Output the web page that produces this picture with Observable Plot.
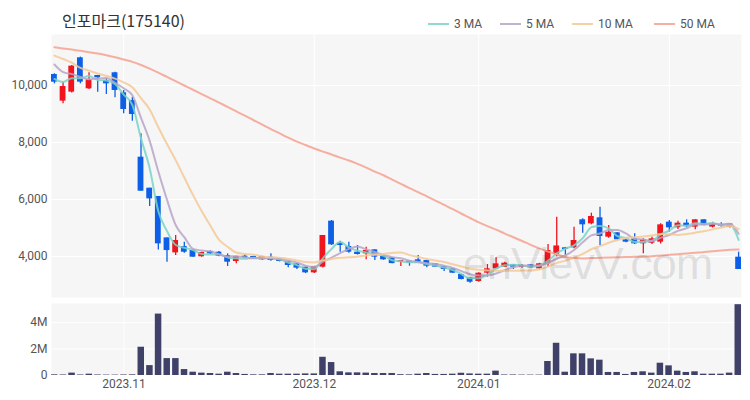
<!DOCTYPE html>
<html>
<head>
<meta charset="utf-8">
<script src="https://cdn.jsdelivr.net/npm/d3@7"></script>
<script src="https://cdn.jsdelivr.net/npm/@observablehq/plot@0.6"></script>
<style>
  body { margin: 0; background: #fff; }
  #wrap { position: relative; width: 750px; height: 400px; overflow: hidden; font-family: Roboto, "Noto Sans", sans-serif; }
  #wrap svg { display: block; }
  #title { position: absolute; left: 62px; top: 8px; font-size: 16px; color: #333; font-family: "Noto Sans CJK KR", sans-serif; white-space: nowrap; }
  .leg { position: absolute; top: 17px; font-size: 12px; color: #555; white-space: nowrap; display: flex; align-items: center; }
  .leg i { display: inline-block; width: 21px; height: 2px; margin-right: 5px; opacity: 0.85; }
  #wm { position: absolute; left: 463px; top: 238px; font-size: 45px; color: rgba(0,0,0,0.11); font-family: "Liberation Sans", Arial, sans-serif; letter-spacing: -1px; pointer-events: none; white-space: nowrap; }
</style>
</head>
<body>
<div id="wrap">
  <div id="chart"></div>
  <div id="title">인포마크(175140)</div>
  <div id="legend"></div>
  <div id="wm">enVievV.com</div>
</div>
<script>
const dates = ["2023-10-20","2023-10-23","2023-10-24","2023-10-25","2023-10-26","2023-10-27","2023-10-30","2023-10-31",
"2023-11-01","2023-11-02","2023-11-03","2023-11-06","2023-11-07","2023-11-08","2023-11-09","2023-11-10","2023-11-13","2023-11-14","2023-11-15","2023-11-16","2023-11-17","2023-11-20","2023-11-21","2023-11-22","2023-11-23","2023-11-24","2023-11-27","2023-11-28","2023-11-29","2023-11-30",
"2023-12-01","2023-12-04","2023-12-05","2023-12-06","2023-12-07","2023-12-08","2023-12-11","2023-12-12","2023-12-13","2023-12-14","2023-12-15","2023-12-18","2023-12-19","2023-12-20","2023-12-21","2023-12-22","2023-12-26","2023-12-27","2023-12-28",
"2024-01-02","2024-01-03","2024-01-04","2024-01-05","2024-01-08","2024-01-09","2024-01-10","2024-01-11","2024-01-12","2024-01-15","2024-01-16","2024-01-17","2024-01-18","2024-01-19","2024-01-22","2024-01-23","2024-01-24","2024-01-25","2024-01-26","2024-01-29","2024-01-30","2024-01-31",
"2024-02-01","2024-02-02","2024-02-05","2024-02-06","2024-02-07","2024-02-08","2024-02-13","2024-02-14","2024-02-15"];

const open = [10386,9450,9766,10971,9883,10351,10175,10445,9743,9474,
7485,6396,6104,4653,4127,4349,4209,3990,4175,4150,
4035,3824,4011,4000,3883,3976,3906,3824,3742,3625,
3426,3625,5240,4467,4350,4152,4093,4233,4000,3953,
3801,3836,3883,3859,3742,3648,3567,3368,3251,3122,
3414,3567,3625,3707,3625,3707,3567,3742,4070,4304,
4304,5287,5146,5357,4678,4830,4584,4619,4444,4467,
4503,5205,5006,5170,5029,5287,5029,5123,5029,3976];

const high = [10410,10117,10700,10995,10445,10351,10234,10468,9825,9590,
8304,6396,6104,4653,4735,4500,4240,4150,4200,4175,
4093,4011,4070,4011,4011,4093,3920,3830,3750,3630,
3660,4737,5263,4538,4503,4386,4327,4240,4010,3960,
3859,3840,4035,3870,3750,3660,3580,3380,3260,3430,
3719,3953,3801,3720,3720,3720,3760,4420,5380,4320,
5029,5322,5520,5731,5088,4840,4600,4795,4619,4680,
5146,5263,5240,5287,5287,5290,5200,5181,5150,4152];

const low = [10058,9357,9740,10058,9860,9766,9684,9567,9005,8748,
6291,5753,4232,3799,4033,4115,3975,3975,4080,3990,
3648,3742,3950,3900,3870,3836,3810,3602,3543,3400,
3400,3600,4386,4152,4117,4050,3883,3859,3870,3742,
3649,3660,3760,3602,3620,3473,3400,3180,3063,3100,
3274,3560,3620,3543,3590,3600,3560,3625,3990,4035,
4269,4818,5111,4386,4643,4580,4480,4420,4093,4420,
4440,4853,4950,5000,4935,5080,5000,5030,5000,3543];

const close = [10117,9965,10679,10117,10199,10269,10058,9825,9158,8982,
6291,6022,4443,4208,4560,4150,3975,4140,4090,4011,
3800,4000,3953,3918,4000,3859,3824,3684,3590,3426,
3648,4737,4409,4386,4152,4070,4210,3976,3883,3750,
3859,3777,3766,3660,3625,3543,3414,3192,3099,3414,
3567,3742,3766,3625,3684,3602,3742,4210,4370,4245,
4561,5111,5404,4701,4853,4584,4503,4444,4584,4619,
5111,5006,5170,5052,5287,5088,5146,5064,5146,3543];

const volume = [0.05,0.04,0.18,0.04,0.10,0.04,0.03,0.03,0.04,0.05,
2.14,0.75,4.65,1.28,1.28,0.45,0.25,0.18,0.15,0.10,
0.25,0.15,0.08,0.05,0.05,0.15,0.10,0.10,0.10,0.12,
0.12,1.38,0.98,0.28,0.20,0.20,0.18,0.15,0.15,0.15,
0.06,0.05,0.10,0.15,0.08,0.08,0.10,0.17,0.12,0.10,
0.10,0.33,0.04,0.04,0.03,0.03,0.03,1.06,2.44,0.25,
1.64,1.64,1.26,1.16,0.23,0.23,0.08,0.23,0.28,0.18,
0.93,0.73,0.33,0.23,0.28,0.10,0.10,0.10,0.18,5.36];

const ma3 = [10230,10120,10254,10254,10332,10195,10175,10051,9680,9322,
8144,7098,5585,4891,4404,4306,4228,4088,4068,4080,
3967,3937,3918,3957,3957,3926,3894,3789,3699,3567,
3555,3937,4265,4511,4316,4203,4144,4085,4023,3870,
3831,3795,3801,3734,3684,3609,3527,3383,3235,3235,
3360,3574,3692,3711,3692,3637,3676,3851,4107,4275,
4392,4639,5025,5072,4986,4713,4647,4510,4510,4549,
4771,4912,5096,5076,5170,5142,5174,5099,5119,4584];

const ma5 = [10737,10470,10400,10300,10215,10246,10264,10094,9902,9658,
8863,8056,6979,5989,5105,4677,4267,4207,4183,4073,
4003,4008,3971,3936,3934,3946,3911,3857,3791,3677,
3634,3817,3962,4121,4266,4351,4245,4159,4058,3978,
3936,3849,3807,3762,3737,3674,3602,3487,3375,3332,
3337,3403,3518,3623,3677,3684,3684,3773,3922,4034,
4226,4499,4738,4804,4926,4931,4809,4617,4594,4547,
4652,4753,4898,4992,5125,5121,5149,5127,5146,4797];

const ma10 = [11050,10930,10800,10620,10520,10420,10340,10240,10110,9937,
9554,9160,8536,7946,7382,6770,6161,5593,5086,4589,
4340,4138,4089,4060,4004,3975,3960,3914,3864,3805,
3790,3864,3910,3956,3972,3993,4031,4060,4090,4122,
4143,4047,3983,3910,3858,3805,3725,3647,3569,3535,
3506,3502,3502,3499,3505,3511,3543,3645,3772,3855,
3955,4092,4255,4363,4480,4578,4654,4678,4699,4736,
4791,4781,4758,4793,4836,4886,4951,5013,5069,4961];

const ma50 = [11345,11300,11260,11215,11170,11120,11060,10990,10910,10830,
10720,10590,10450,10300,10150,10000,9850,9700,9550,9400,
9250,9090,8940,8780,8630,8470,8320,8170,8030,7910,
7790,7680,7580,7470,7370,7250,7120,6980,6850,6700,
6550,6400,6260,6110,5960,5810,5660,5500,5350,5198,
5067,4942,4804,4674,4544,4410,4284,4172,4076,3981,
3947,3929,3948,3958,3963,3972,3983,3989,3999,4011,
4037,4057,4082,4104,4130,4155,4181,4209,4240,4242];

const xTicks = ["2023-11-01","2023-12-01","2024-01-02","2024-02-01"];
const xTickLabels = ["2023.11","2023.12","2024.01","2024.02"];
const priceTicks = [4000,6000,8000,10000];
const volTicks = [0,2,4];
const volTickLabels = ["0","2M","4M"];

const maNames = ["3 MA","5 MA","10 MA","50 MA"];
const maColors = ["#79d3c6","#b7a4c8","#f3c995","#f4a190"];
const maSeries = [ma3, ma5, ma10, ma50];

const upColor = "#f0141e";
const downColor = "#0c5fe6";

const candles = dates.map((d, i) => ({
  date: d, open: open[i], high: high[i], low: low[i], close: close[i],
  volume: volume[i] * 1e6,
  color: close[i] > open[i] ? upColor : downColor
}));

const style = {fontFamily: "Roboto, 'Noto Sans', sans-serif", fontSize: "12px", color: "#555", background: "transparent", overflow: "visible"};
const ML = 51, MR = 9;

const price = Plot.plot({
  width: 750, height: 297,
  marginLeft: ML, marginRight: MR, marginTop: 34, marginBottom: 0,
  style,
  x: {type: "band", domain: dates, paddingInner: 0.33, paddingOuter: 0, axis: null},
  y: {domain: [2561, 11789], axis: null},
  marks: [
    Plot.frame({fill: "#f6f6f6", stroke: "none"}),
    Plot.gridY(priceTicks, {stroke: "#fff", strokeOpacity: 1, strokeWidth: 1}),
    Plot.gridX(xTicks, {stroke: "#fff", strokeOpacity: 1, strokeWidth: 1}),
    Plot.axisY(priceTicks, {tickSize: 0, tickPadding: 4, tickFormat: d3.format(","), fill: "#555", fontSize: 12, label: null}),
    Plot.ruleX(candles, {x: "date", y1: "low", y2: "high", stroke: "color", strokeWidth: 1.3}),
    Plot.barY(candles, {x: "date", y1: "open", y2: "close", fill: "color"}),
    ...maSeries.map((s, k) => Plot.line(dates.map((d, i) => ({date: d, v: s[i]})), {
      x: "date", y: "v", stroke: maColors[k], strokeWidth: 2, strokeOpacity: 0.85, curve: "monotone-x"
    }))
  ]
});

const vol = Plot.plot({
  width: 750, height: 103,
  marginLeft: ML, marginRight: MR, marginTop: 6, marginBottom: 25,
  style,
  x: {type: "band", domain: dates, paddingInner: 0.25, paddingOuter: 0, axis: null},
  y: {domain: [0, 5.45e6], axis: null},
  marks: [
    Plot.frame({fill: "#f6f6f6", stroke: "none"}),
    Plot.gridY(volTicks.map(v => v * 1e6), {stroke: "#fff", strokeOpacity: 1}),
    Plot.gridX(xTicks, {stroke: "#fff", strokeOpacity: 1}),
    Plot.barY(candles, {x: "date", y: "volume", fill: "#3f4168"}),
    Plot.axisY(volTicks.map(v => v * 1e6), {tickSize: 0, tickPadding: 4, tickFormat: v => volTickLabels[volTicks.indexOf(v / 1e6)], fill: "#555", fontSize: 12, label: null}),
    Plot.axisX(xTicks, {tickSize: 0, tickPadding: 4, tickFormat: d => xTickLabels[xTicks.indexOf(d)], fill: "#555", fontSize: 12, label: null})
  ]
});

const chart = document.getElementById("chart");
chart.append(price, vol);

const legend = document.getElementById("legend");
const legX = [428, 500, 572, 654];
maNames.forEach((n, k) => {
  const el = document.createElement("div");
  el.className = "leg";
  el.style.left = legX[k] + "px";
  el.innerHTML = `<i style="background:${maColors[k]}"></i><span>${n}</span>`;
  legend.append(el);
});
</script>
</body>
</html>
